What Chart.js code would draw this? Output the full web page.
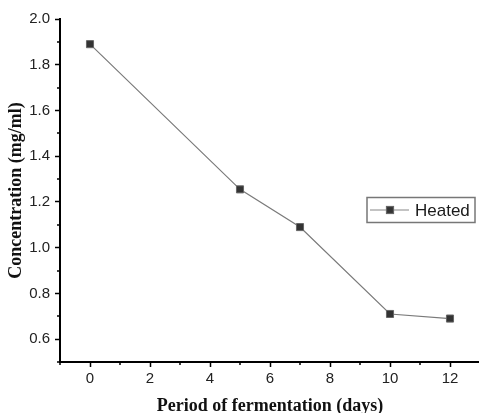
<!DOCTYPE html>
<html>
<head>
<meta charset="utf-8">
<script src="https://cdn.jsdelivr.net/npm/chart.js@4.4.1/dist/chart.umd.min.js"></script>
<style>
html,body{margin:0;padding:0;background:#fff;overflow:hidden;}
#wrap{width:479px;height:413px;overflow:hidden;}
canvas{display:block;}
</style>
</head>
<body>
<div id="wrap"><canvas id="c" width="486" height="413"></canvas></div>
<script>
const days = [0, 5, 7, 10, 12];
const heated = [1.89, 1.255, 1.09, 0.71, 0.69];
const seriesLabel = 'Heated';
const xTicks = [0, 2, 4, 6, 8, 10, 12];
const xMinorTicks = [-1, 1, 3, 5, 7, 9, 11, 13];
const yTicks = [0.6, 0.8, 1.0, 1.2, 1.4, 1.6, 1.8, 2.0];
const yMinorTicks = [0.5, 0.7, 0.9, 1.1, 1.3, 1.5, 1.7, 1.9];
const xTitle = 'Period of fermentation (days)';
const yTitle = 'Concentration (mg/ml)';

const minorTicks = {
  id: 'minorTicks',
  afterDraw(chart) {
    const ctx = chart.ctx;
    const xs = chart.scales.x, ys = chart.scales.y;
    const a = chart.chartArea;
    ctx.save();
    ctx.strokeStyle = '#000';
    ctx.lineWidth = 1.5;
    ctx.beginPath();
    xMinorTicks.forEach(v => {
      const px = Math.round(xs.getPixelForValue(v));
      ctx.moveTo(px, a.bottom); ctx.lineTo(px, a.bottom + 3);
    });
    yMinorTicks.forEach(v => {
      const py = Math.round(ys.getPixelForValue(v));
      ctx.moveTo(a.left, py); ctx.lineTo(a.left - 3, py);
    });
    ctx.stroke();
    ctx.restore();
  }
};

const legendBox = {
  id: 'legendBox',
  afterDraw(chart) {
    const ctx = chart.ctx;
    ctx.save();
    const x0 = 367, y0 = 197.5, w = 108, h = 25;
    ctx.strokeStyle = '#777';
    ctx.lineWidth = 1.5;
    ctx.strokeRect(x0, y0, w, h);
    const cy = y0 + h / 2;
    ctx.strokeStyle = '#888';
    ctx.lineWidth = 1.2;
    ctx.beginPath();
    ctx.moveTo(x0 + 3, cy); ctx.lineTo(x0 + 42, cy);
    ctx.stroke();
    ctx.fillStyle = '#333';
    ctx.strokeStyle = '#666';
    ctx.fillRect(x0 + 19.5, cy - 3.5, 7, 7);
    ctx.strokeRect(x0 + 19.5, cy - 3.5, 7, 7);
    ctx.fillStyle = '#1a1a1a';
    ctx.font = '17px "Liberation Sans", Arial, sans-serif';
    ctx.textBaseline = 'middle';
    ctx.textAlign = 'left';
    ctx.fillText(seriesLabel, x0 + 48, cy + 1);
    ctx.restore();
  }
};

new Chart(document.getElementById('c'), {
  type: 'line',
  data: {
    datasets: [{
      label: seriesLabel,
      data: days.map((d, i) => ({ x: d, y: heated[i] })),
      borderColor: '#7a7a7a',
      borderWidth: 1.2,
      pointStyle: 'rect',
      pointRadius: 5,
      pointBackgroundColor: '#333',
      pointBorderColor: '#666',
      pointBorderWidth: 1,
      tension: 0,
      fill: false
    }]
  },
  options: {
    responsive: false,
    animation: false,
    devicePixelRatio: 1,
    layout: { padding: { top: 19, right: 1, left: 0, bottom: 0 } },
    plugins: { legend: { display: false }, tooltip: { enabled: false } },
    scales: {
      x: {
        type: 'linear',
        min: -1, max: 13,
        afterBuildTicks: s => { s.ticks = xTicks.map(v => ({ value: v })); },
        afterFit: s => { s.height = 51; },
        border: { display: true, color: '#000', width: 2 },
        grid: { display: true, drawOnChartArea: false, drawTicks: true, tickLength: 5, tickColor: '#000', tickWidth: 1.5 },
        ticks: { color: '#222', padding: 3, font: { family: '"Liberation Sans", Arial, sans-serif', size: 15 }, maxRotation: 0 },
        title: { display: true, text: xTitle, color: '#111', padding: { top: 0, bottom: 0 }, font: { family: '"Liberation Serif", "Times New Roman", serif', size: 18, weight: 'bold', lineHeight: 0.7 } }
      },
      y: {
        min: 0.5, max: 2.0,
        afterBuildTicks: s => { s.ticks = yTicks.map(v => ({ value: v })); },
        afterFit: s => { s.width = 60; },
        border: { display: true, color: '#000', width: 2 },
        grid: { display: true, drawOnChartArea: false, drawTicks: true, tickLength: 5, tickColor: '#000', tickWidth: 1.5 },
        ticks: { color: '#222', padding: 5, font: { family: '"Liberation Sans", Arial, sans-serif', size: 15 }, callback: v => Number(v).toFixed(1) },
        title: { display: true, text: yTitle, color: '#111', padding: { top: 10.5, bottom: 0 }, font: { family: '"Liberation Serif", "Times New Roman", serif', size: 18, weight: 'bold', lineHeight: 0.7 } }
      }
    }
  },
  plugins: [minorTicks, legendBox]
});
</script>
</body>
</html>
